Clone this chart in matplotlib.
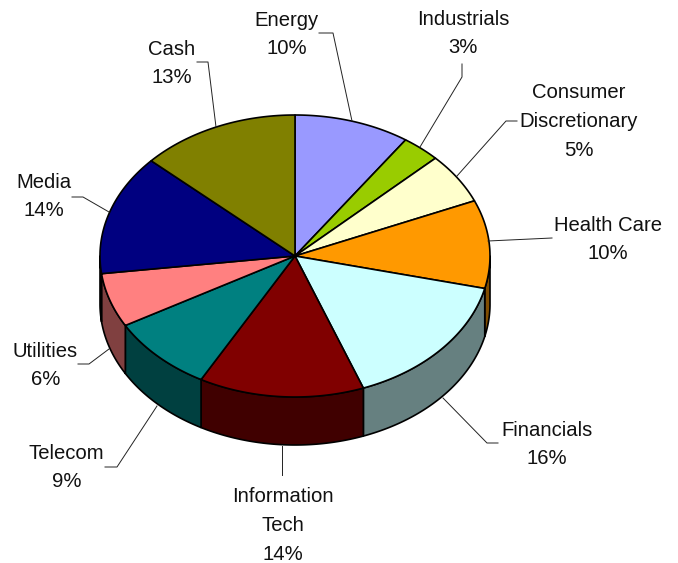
import numpy as np
import matplotlib
matplotlib.use("Agg")
import matplotlib.pyplot as plt
from matplotlib.colors import to_rgb

# Slice data
categories = ["Energy", "Industrials", "Consumer\nDiscretionary", "Health Care", "Financials",
              "Information\nTech", "Telecom", "Utilities", "Media", "Cash"]
values = [9.6, 3.2, 5.8, 10.1, 15.6, 13.7, 8.8, 6.2, 13.8, 13.2]
pct_labels = ["10%", "3%", "5%", "10%", "16%", "14%", "9%", "6%", "14%", "13%"]
colors = ["#9999FF", "#99CC00", "#FFFFCC", "#FF9900", "#CCFFFF",
          "#800000", "#008080", "#FF8080", "#000080", "#808000"]

# Layout in pixels
cx, cy = 295, 256
rx, ry = 195, 141
depth = 48
label_pos = [(286.5, 34.5), (463, 33.5), (579, 121.5), (608, 239.5), (547, 444.5),
             (282.5, 525.5), (66.5, 467.5), (45.5, 365.5), (44, 196.5), (172, 63.5)]
leaders = [[(352, 121), (333, 33), (319, 33)],
           [(420, 147), (462, 77), (462, 64)],
           [(457, 176), (506, 121), (517, 121)],
           [(488, 241), (552, 238)],
           [(443, 398), (487, 443), (498, 443)],
           [(282, 446), (282, 475)],
           [(157, 406), (117, 467), (105, 467)],
           [(109, 349), (89, 364), (78, 364)],
           [(109, 212), (83, 197), (72, 197)],
           [(216, 127), (208, 62), (197, 62)]]


def ell(t):
    # t is degrees clockwise from 12 o'clock
    r = np.radians(t)
    return cx + rx * np.sin(r), cy - ry * np.cos(r)


fig = plt.figure(figsize=(6.78, 5.63), dpi=100)
ax = fig.add_axes([0, 0, 1, 1])
ax.set_xlim(0, 678)
ax.set_ylim(563, 0)
ax.axis("off")

edges = np.cumsum([0] + values) / sum(values) * 360

# side walls first, only the front half can be seen
for i in range(len(values)):
    t1, t2 = max(edges[i], 90), min(edges[i + 1], 270)
    if t2 <= t1:
        continue
    t = np.linspace(t1, t2, 80)
    x, y = ell(t)
    xs = np.concatenate([x, x[::-1]])
    ys = np.concatenate([y, y[::-1] + depth])
    dark = tuple(c * 0.5 for c in to_rgb(colors[i]))
    ax.fill(xs, ys, facecolor=dark, edgecolor="black", linewidth=1.2, joinstyle="round")

# top of the pie
for i in range(len(values)):
    t = np.linspace(edges[i], edges[i + 1], 120)
    x, y = ell(t)
    ax.fill(np.r_[cx, x], np.r_[cy, y], facecolor=colors[i], edgecolor="black",
            linewidth=1.2, joinstyle="round")

for pts in leaders:
    ax.plot([p[0] for p in pts], [p[1] for p in pts], color="#222222", lw=0.7)

for name, pct, pos in zip(categories, pct_labels, label_pos):
    ax.text(pos[0], pos[1], name + "\n" + pct, ha="center", va="center", fontsize=14.6,
            family="Liberation Sans", linespacing=1.65, color="#111111")

fig.savefig("out.png", dpi=100)
